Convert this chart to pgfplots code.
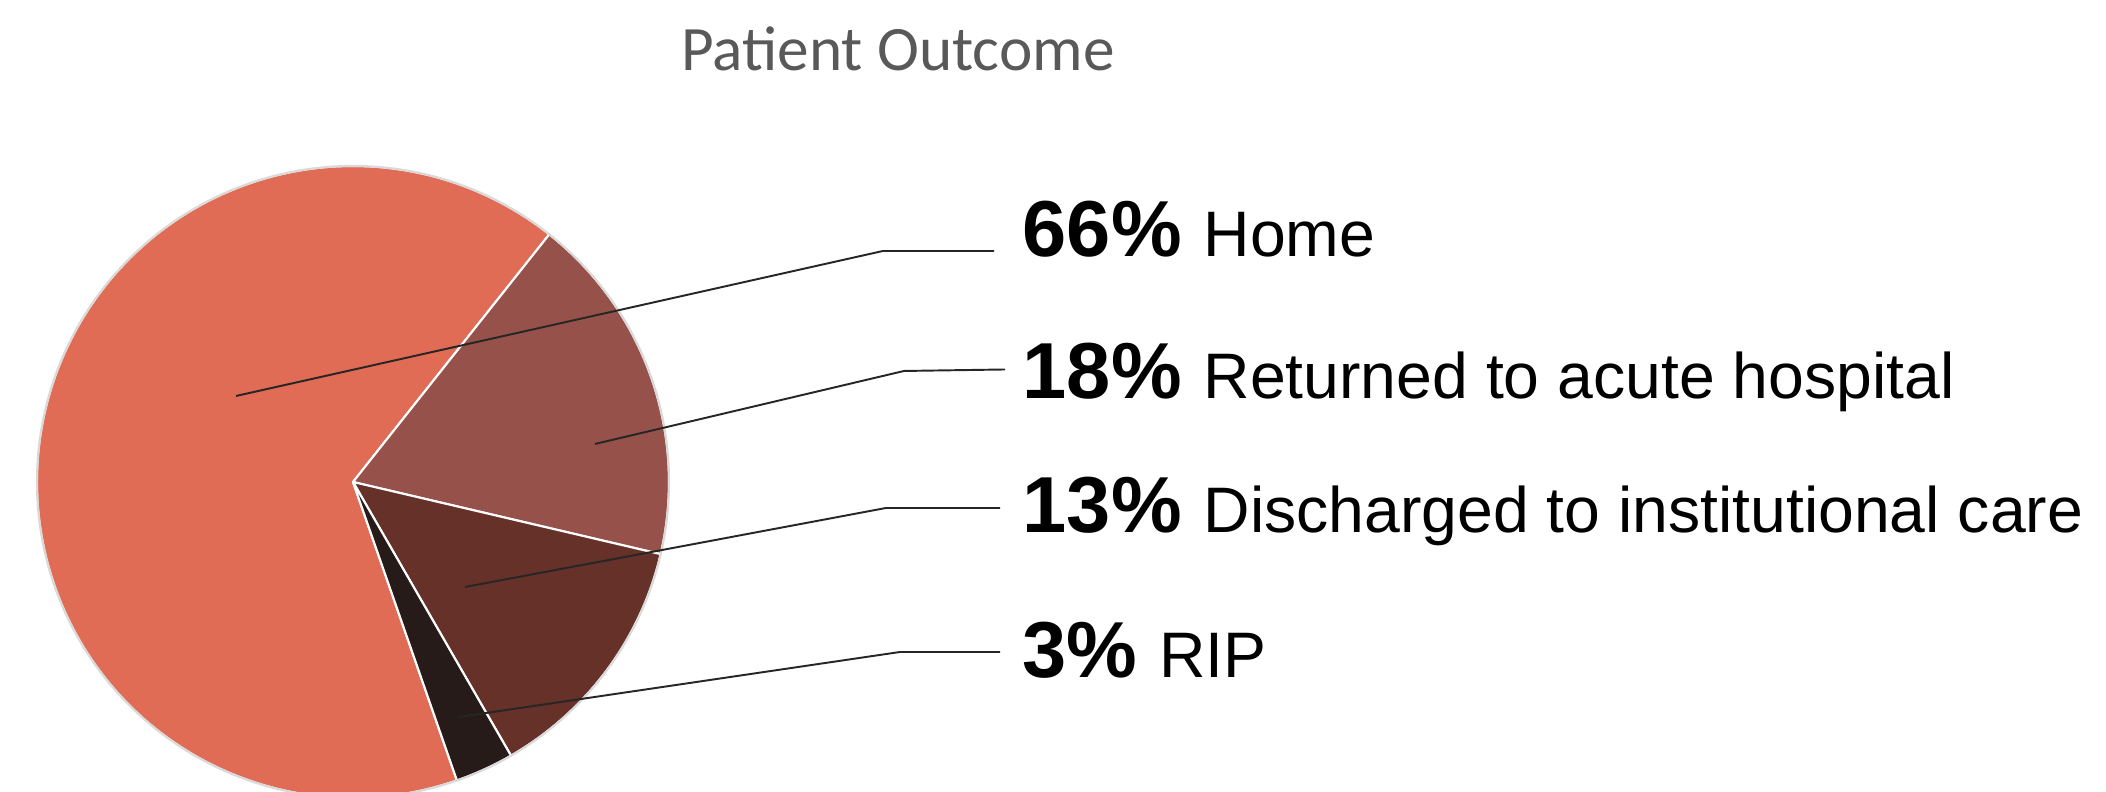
\documentclass[border=0pt]{standalone}
\usepackage{pgfplots}
\pgfplotsset{compat=1.18}
\usepackage{pgfplotstable}
\usepackage{fontspec}
\setmainfont{Liberation Sans}
\newfontfamily\titlefont{Carlito}

\definecolor{slice0}{RGB}{224,108,85}
\definecolor{slice1}{RGB}{150,82,74}
\definecolor{slice2}{RGB}{101,49,41}
\definecolor{slice3}{RGB}{38,27,24}
\definecolor{titlegray}{RGB}{89,89,89}
\definecolor{rimgray}{RGB}{217,217,217}

% patient outcome shares, clockwise from the Home slice
\pgfplotstableread[col sep=comma]{
pct,name
66,Home
18,Returned to acute hospital
13,Discharged to institutional care
3,RIP
}\outcome

\begin{document}
\begin{tikzpicture}
\useasboundingbox (0,0) rectangle (21.06,7.92);
\begin{axis}[
    x=1cm, y=1cm,
    xmin=0, xmax=21.06,
    ymin=0, ymax=7.92,
    at={(0,0)}, anchor=origin,
    hide axis,
    clip=true,
]
% pie wedges from the table
\def\angacc{289.2}
\pgfplotsforeachungrouped \i in {0,...,3}{
    \pgfplotstablegetelem{\i}{pct}\of\outcome
    \let\p\pgfplotsretval
    \pgfmathsetmacro\aend{\angacc-3.6*\p}
    \edef\cmd{\noexpand\fill[fill=slice\i, draw=white, line width=0.6pt, line join=round]
        (axis cs:3.53,3.10) -- ++(\angacc:3.16)
        arc[start angle=\angacc, end angle=\aend, radius=3.16] -- cycle;}
    \cmd
    \global\let\angacc\aend
}
\draw[rimgray, line width=0.6pt] (axis cs:3.53,3.10) circle[radius=3.16];

% leader lines
\tikzset{leader/.style={black!85, line width=0.55pt}}
\draw[leader] (axis cs:2.36,3.96) -- (axis cs:8.83,5.41) -- (axis cs:9.94,5.41);
\draw[leader] (axis cs:5.95,3.48) -- (axis cs:9.04,4.21) -- (axis cs:10.05,4.225);
\draw[leader] (axis cs:4.65,2.05) -- (axis cs:8.86,2.84) -- (axis cs:10.00,2.84);
\draw[leader] (axis cs:4.59,0.75) -- (axis cs:9.00,1.40) -- (axis cs:10.00,1.40);

% labels
\def\ylist{{5.35,3.93,2.59,1.14}}
\pgfplotsforeachungrouped \i in {0,...,3}{
    \pgfplotstablegetelem{\i}{pct}\of\outcome
    \let\p\pgfplotsretval
    \pgfplotstablegetelem{\i}{name}\of\outcome
    \let\nm\pgfplotsretval
    \pgfmathsetmacro\ly{\ylist[\i]}
    \edef\cmd{\noexpand\node[anchor=base west, inner sep=0pt] at (axis cs:10.22,\ly)
        {\noexpand\fontsize{22.6}{27}\noexpand\selectfont\noexpand\bfseries \p\noexpand\%\noexpand\hspace{0.22cm}%
         \noexpand\fontsize{18.3}{22}\noexpand\selectfont\noexpand\mdseries \nm};}
    \cmd
}

% title
\node[anchor=base, inner sep=0pt, text=titlegray] at (axis cs:8.98,7.21)
    {\titlefont\fontsize{18}{22}\selectfont Patient Outcome};
\end{axis}
\end{tikzpicture}
\end{document}
